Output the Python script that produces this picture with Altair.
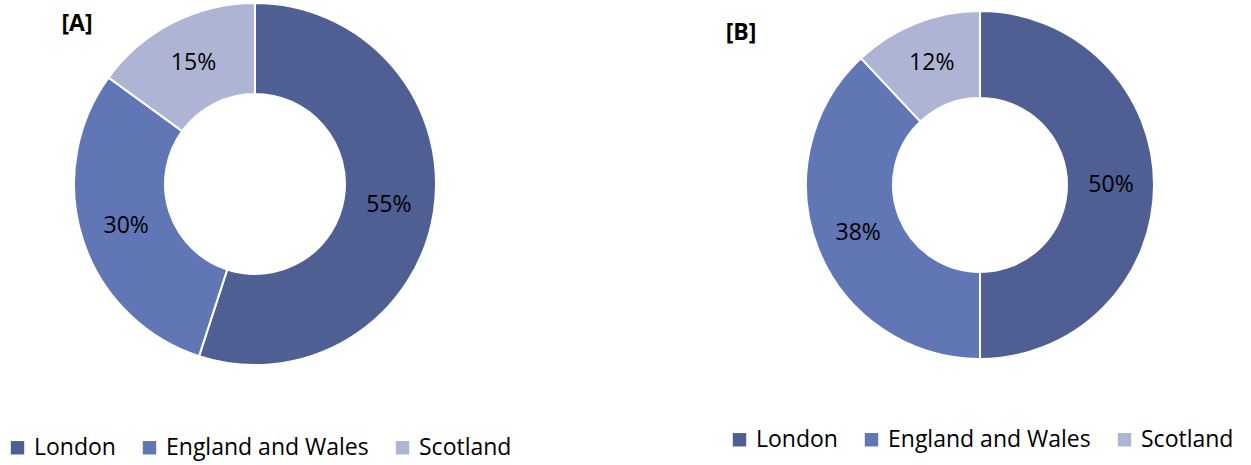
import altair as alt
import pandas as pd

categories = ["London", "England and Wales", "Scotland"]
values_a = [55, 30, 15]
values_b = [50, 38, 12]
panel_titles = ["[A]", "[B]"]
colors = ["#4F5E93", "#6076B5", "#AEB5D4"]

FONT = "Open Sans"

def donut(values, cx, cy, r_out, r_in, r_lab, lx, ly):
    df = pd.DataFrame({"cat": categories, "value": values, "idx": range(len(values))})
    df["label"] = [f"{v}%" for v in values]
    base = alt.Chart(df)
    arc = base.mark_arc(outerRadius=r_out, innerRadius=r_in, stroke="white", strokeWidth=2).encode(
        x=alt.value(cx), y=alt.value(cy),
        theta=alt.Theta("value:Q", stack=True),
        color=alt.Color("cat:N", sort=categories,
                        scale=alt.Scale(domain=categories, range=colors),
                        legend=alt.Legend(orient="none", legendX=lx, legendY=ly, direction="horizontal",
                                          title=None, symbolType="square", symbolSize=180,
                                          symbolStrokeWidth=0, labelFontSize=23, labelFont=FONT,
                                          labelColor="black", columnPadding=22, padding=0,
                                          labelOffset=5, labelLimit=500,
                                          symbolOpacity=1)),
        order=alt.Order("idx:Q"),
    )
    txt = base.mark_text(radius=r_lab, fontSize=23, font=FONT, color="black").encode(
        x=alt.value(cx), y=alt.value(cy),
        theta=alt.Theta("value:Q", stack=True),
        order=alt.Order("idx:Q"),
        text="label:N",
    )
    return alt.layer(arc, txt)

A = donut(values_a, 255, 184, 181, 90, 135.5, 6, 436)
B = donut(values_b, 980, 185, 174, 87, 131, 728, 428)

tdf = pd.DataFrame({"t": panel_titles, "x": [77, 741], "y": [24, 33]})
titles = alt.Chart(tdf).mark_text(fontSize=23, fontWeight="bold", font=FONT, color="black").encode(
    x=alt.X("x:Q", scale=alt.Scale(domain=[0, 1251], range=[0, 1251]), axis=None),
    y=alt.Y("y:Q", scale=alt.Scale(domain=[0, 465], range=[0, 465]), axis=None),
    text="t:N",
)

chart = alt.layer(A, B, titles).resolve_scale(color="independent", theta="independent").properties(
    width=1251, height=465, padding=0, autosize=alt.AutoSizeParams(type="none"),
    background="white"
).configure_view(stroke=None)

chart.save("out.html", embed_options={"renderer": "svg", "actions": False})
